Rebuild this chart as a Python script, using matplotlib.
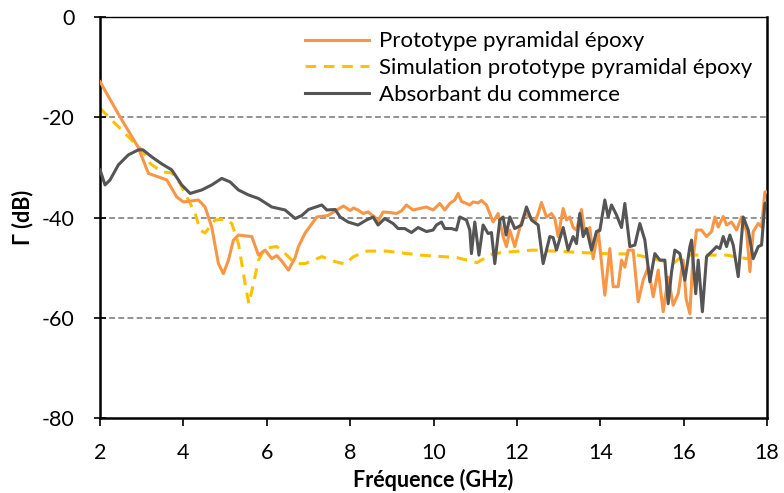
import matplotlib.pyplot as plt

# Prototype pyramidal époxy (mesure)
proto_f = [2.0, 2.45, 2.91, 3.16, 3.4, 3.6, 3.84, 4.0, 4.36, 4.52, 4.68, 4.84, 4.96, 5.08, 5.2,
           5.32, 5.64, 5.8, 5.96, 6.12, 6.24, 6.36, 6.52, 6.68, 6.76, 6.92, 7.2, 7.47, 7.68, 7.84,
           8.0, 8.08, 8.19, 8.31, 8.43, 8.59, 8.67, 8.79, 8.95, 9.11, 9.23, 9.35, 9.51, 9.67, 9.83,
           9.99, 10.15, 10.27, 10.39, 10.51, 10.59, 10.67, 10.79, 10.87, 10.95, 11.07, 11.15, 11.27,
           11.35, 11.43, 11.55, 11.67, 11.75, 11.83, 11.95, 12.07, 12.19, 12.31, 12.43, 12.51, 12.59,
           12.71, 12.83, 12.91, 12.99, 13.11, 13.19, 13.27, 13.35, 13.43, 13.55, 13.63, 13.75, 13.83,
           13.95, 14.11, 14.23, 14.31, 14.43, 14.51, 14.59, 14.67, 14.79, 14.91, 15.03, 15.15, 15.27,
           15.39, 15.51, 15.63, 15.75, 15.87, 15.99, 16.06, 16.15, 16.22, 16.31, 16.43, 16.55, 16.67,
           16.75, 16.83, 16.95, 17.03, 17.15, 17.27, 17.39, 17.51, 17.59, 17.67, 17.79, 17.87, 17.95, 18.0]
proto_db = [-12.9, -19.5, -25.9, -31.2, -31.9, -32.5, -35.9, -36.9, -36.5, -37.9, -41.9, -49.2, -51.2, -48.5, -44.5,
            -43.5, -43.8, -47.5, -46.5, -48.2, -47.6, -48.7, -50.5, -48.0, -45.8, -43.1, -39.9, -39.6, -38.5, -37.7,
            -38.6, -38.1, -38.5, -39.2, -38.9, -39.9, -40.7, -38.9, -39.0, -39.2, -38.7, -37.5, -38.5, -38.2, -37.9,
            -38.5, -37.2, -38.5, -37.2, -36.5, -35.2, -36.8, -37.2, -37.5, -36.9, -37.1, -36.6, -37.5,
            -39.2, -40.9, -39.2, -43.8, -45.8, -42.5, -45.8, -42.0, -39.2, -39.9, -40.9, -39.2, -37.0,
            -39.9, -39.2, -40.2, -43.8, -38.2, -40.5, -39.9, -42.0, -42.5, -38.4, -43.2, -42.0, -48.2,
            -42.5, -55.5, -46.2, -53.8, -53.8, -48.5, -49.9, -46.5, -46.5, -56.8, -52.5, -49.9, -55.8,
            -50.5, -58.8, -51.9, -57.5, -55.2, -48.5, -56.2, -59.2, -48.5, -42.5, -42.5, -43.8, -42.8,
            -39.9, -41.9, -39.8, -41.5, -40.9, -42.5, -39.9, -42.8, -50.8, -42.8, -41.2, -41.9, -34.9, -34.9]

# Simulation prototype pyramidal époxy
sim_f = [2.0, 2.68, 3.0, 3.2, 3.48, 3.72, 3.92, 4.12, 4.28, 4.4, 4.52, 4.76, 5.0, 5.16, 5.32, 5.48,
         5.57, 5.68, 5.8, 5.96, 6.24, 6.48, 6.68, 6.92, 7.32, 7.64, 7.88, 8.08, 8.4, 8.88, 9.68, 10.56,
         11.04, 11.43, 11.91, 12.39, 13.11, 14.07, 14.78, 15.27, 15.75, 15.99, 16.55, 17.03, 17.51, 17.83]
sim_db = [-18.2, -23.9, -26.5, -29.2, -30.9, -31.1, -33.2, -36.5, -39.1, -42.5, -43.1, -40.5, -40.3, -41.2, -45.2, -53.2,
          -57.2, -53.2, -48.5, -46.1, -45.8, -47.5, -49.2, -49.2, -47.8, -48.8, -49.3, -47.8, -46.7, -46.7, -47.5, -48.0,
          -49.0, -47.2, -46.8, -46.5, -46.8, -47.2, -47.3, -48.2, -49.2, -47.5, -47.5, -47.5, -48.2, -47.2]

# Absorbant du commerce
abs_f = [2.0, 2.12, 2.24, 2.44, 2.68, 2.92, 3.03, 3.24, 3.48, 3.72, 3.96, 4.16, 4.44, 4.68, 4.92, 5.12,
         5.32, 5.56, 5.8, 6.12, 6.44, 6.68, 6.84, 7.0, 7.32, 7.44, 7.64, 7.76, 7.95, 8.07, 8.19, 8.39,
         8.55, 8.67, 8.83, 9.03, 9.15, 9.31, 9.47, 9.63, 9.83, 9.99, 10.07, 10.19, 10.27, 10.43, 10.55,
         10.63, 10.79, 10.87, 10.91, 10.99, 11.09, 11.19, 11.31, 11.39, 11.47, 11.59, 11.67, 11.74, 11.83,
         11.95, 12.11, 12.23, 12.35, 12.51, 12.63, 12.79, 12.87, 12.95, 13.11, 13.23, 13.35, 13.43, 13.51,
         13.59, 13.67, 13.79, 13.91, 13.99, 14.11, 14.19, 14.27, 14.39, 14.51, 14.59, 14.71, 14.83, 14.95,
         15.07, 15.19, 15.31, 15.43, 15.55, 15.63, 15.71, 15.79, 15.91, 16.03, 16.15, 16.19, 16.29, 16.35,
         16.45, 16.55, 16.71, 16.79, 16.87, 16.95, 17.03, 17.11, 17.19, 17.31, 17.43, 17.55, 17.67, 17.79,
         17.87, 17.95, 18.0]
abs_db = [-30.5, -33.5, -32.5, -29.5, -27.5, -26.5, -26.5, -27.9, -29.3, -30.5, -33.5, -35.2, -34.5, -33.5, -32.2, -32.9,
          -34.5, -35.5, -36.2, -37.9, -38.5, -40.2, -39.6, -38.4, -37.5, -38.5, -38.4, -39.9, -40.9, -41.2, -41.5, -40.5,
          -39.9, -41.5, -40.2, -41.2, -42.2, -42.2, -43.0, -42.0, -42.8, -42.5, -41.5, -40.9, -42.2, -42.2, -42.5,
          -39.9, -40.5, -42.5, -47.2, -40.9, -47.5, -41.5, -43.2, -43.0, -49.2, -40.5, -39.9, -43.5, -39.9,
          -42.2, -41.5, -37.9, -40.5, -41.5, -49.2, -43.8, -44.0, -46.5, -42.0, -46.5, -43.8, -45.2, -39.2,
          -43.8, -42.2, -46.5, -42.8, -42.6, -36.5, -39.9, -37.5, -39.5, -42.0, -37.2, -45.8, -45.5, -41.2,
          -44.5, -52.8, -47.2, -48.5, -48.5, -57.2, -50.9, -46.5, -47.2, -52.5, -45.8, -44.5, -55.2, -48.5,
          -58.8, -47.8, -46.5, -45.8, -46.2, -43.8, -45.8, -43.5, -45.5, -51.8, -39.9, -42.5, -48.2, -45.8,
          -45.5, -37.2, -37.0]

xticks = [2, 4, 6, 8, 10, 12, 14, 16, 18]
yticks = [0, -20, -40, -60, -80]

plt.rcParams['font.family'] = ['Lato', 'DejaVu Sans']

fig = plt.figure(figsize=(7.84, 4.93), dpi=100)
ax = fig.add_axes([0.1276, 0.1521, 0.8507, 0.8134])

ax.plot(proto_f, proto_db, color='#F79646', lw=2.2, label='Prototype pyramidal époxy', zorder=3)
ax.plot(sim_f, sim_db, color='#FFC000', lw=2.2, ls=(0, (3.5, 2.5)), label='Simulation prototype pyramidal époxy', zorder=2)
ax.plot(abs_f, abs_db, color='#555555', lw=2.2, label='Absorbant du commerce', zorder=4)

ax.set_xlim(2, 18)
ax.set_ylim(-80, 0)
ax.set_xticks(xticks)
ax.set_yticks(yticks)
ax.set_xticklabels([str(t) for t in xticks])
ax.set_yticklabels([str(t) for t in yticks])

for y in [-20, -40, -60]:
    ax.axhline(y, color='#808080', lw=1.2, ls=(0, (3.5, 2)), zorder=1)

for side in ['left', 'bottom', 'right']:
    ax.spines[side].set_linewidth(1.8)
ax.spines['top'].set_linewidth(1.0)

ax.tick_params(axis='y', direction='inout', length=9, width=1.2, labelsize=15.5, pad=14)
ax.tick_params(axis='x', direction='out', length=6, width=1.2, labelsize=15.5, pad=12)

ax.set_xlabel('Fréquence (GHz)', fontsize=15.5, fontweight='bold', labelpad=4)
ax.set_ylabel('Γ (dB)', fontsize=15.5, fontweight='bold', labelpad=6)

ax.legend(loc='upper left', bbox_to_anchor=(0.285, 1.0), frameon=False, fontsize=16,
          handlelength=2.9, handletextpad=0.45, labelspacing=0.3, borderaxespad=0.25)

fig.savefig('out.png', dpi=100)
